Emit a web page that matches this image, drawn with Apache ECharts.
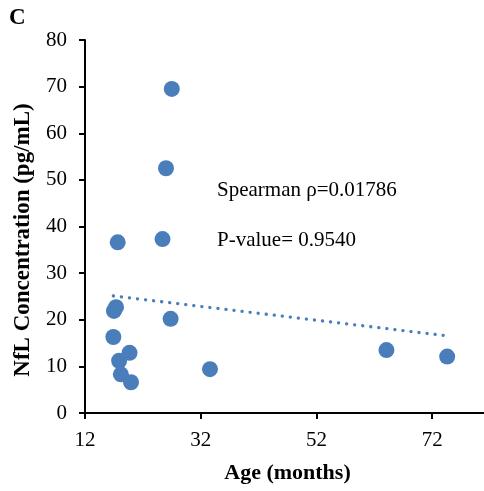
<!DOCTYPE html>
<html>
<head>
<meta charset="utf-8">
<script src="https://cdn.jsdelivr.net/npm/echarts@6/dist/echarts.min.js"></script>
<style>
  html, body { margin: 0; padding: 0; background: #fff; }
  #chart { width: 484px; height: 491px; }
</style>
</head>
<body>
<div id="chart"></div>
<script>
// age (months) and NfL concentration (pg/mL)
const ageMonths = [27.0, 26.0, 25.4, 17.65, 17.36, 17.0, 26.8, 16.9, 17.9, 19.7, 18.2, 19.95, 33.6, 64.1, 74.6]
const nflValues = [69.5, 52.5, 37.3, 36.6, 22.7, 21.9, 20.2, 16.3, 11.2, 12.9, 8.3, 6.6, 9.4, 13.5, 12.1]
// linear trendline endpoints
const trendAge = [16.9, 74.2]
const trendNfl = [25.1, 16.6]
const xTicks = [12, 32, 52, 72]

const serif = 'Liberation Serif, Times New Roman, serif'
const blue = '#4a7ebb'

const chart = echarts.init(document.getElementById('chart'))
chart.setOption({
  animation: false,
  grid: { left: 85, top: 40, right: -6, bottom: 78, outerBoundsMode: 'none', containLabel: false },
  xAxis: {
    type: 'value', min: 12, max: 82, interval: 20,
    name: 'Age (months)', nameLocation: 'middle', nameGap: 49,
    nameTextStyle: { fontFamily: serif, fontWeight: 'bold', fontSize: 22, color: '#000' },
    axisLine: { lineStyle: { color: '#000', width: 2 } },
    axisTick: { length: 6, lineStyle: { color: '#000', width: 2 } },
    axisLabel: {
      fontFamily: serif, fontSize: 21, color: '#000', margin: 17, showMaxLabel: false,
      formatter: v => xTicks.includes(v) ? String(v) : ''
    },
    splitLine: { show: false }
  },
  yAxis: {
    type: 'value', min: 0, max: 80, interval: 10,
    axisLine: { show: true, lineStyle: { color: '#000', width: 2 } },
    axisTick: { show: true, length: 6, lineStyle: { color: '#000', width: 2 } },
    axisLabel: { fontFamily: serif, fontSize: 21, color: '#000', margin: 18 },
    splitLine: { show: false }
  },
  series: [
    {
      type: 'line',
      data: trendAge.map((a, i) => [a, trendNfl[i]]),
      symbol: 'none',
      lineStyle: { color: blue, width: 3.3, type: [0.1, 8], cap: 'round' },
      z: 1
    },
    {
      type: 'scatter',
      data: ageMonths.map((a, i) => [a, nflValues[i]]),
      symbolSize: 16,
      itemStyle: { color: blue, opacity: 1 },
      z: 2
    }
  ],
  graphic: [
    { type: 'text', x: 9, y: 18, style: { text: 'C', font: 'bold 23px ' + serif, fill: '#000', verticalAlign: 'middle' } },
    {
      type: 'text', x: 23, y: 240, rotation: Math.PI / 2,
      style: { text: 'NfL Concentration (pg/mL)', font: 'bold 23px ' + serif, fill: '#000', align: 'center', verticalAlign: 'middle' }
    },
    { type: 'text', x: 217, y: 190, style: { text: 'Spearman \u03c1=0.01786', font: '21px ' + serif, fill: '#000', verticalAlign: 'middle' } },
    { type: 'text', x: 217, y: 240, style: { text: 'P-value= 0.9540', font: '21px ' + serif, fill: '#000', verticalAlign: 'middle' } }
  ]
})
</script>
</body>
</html>
